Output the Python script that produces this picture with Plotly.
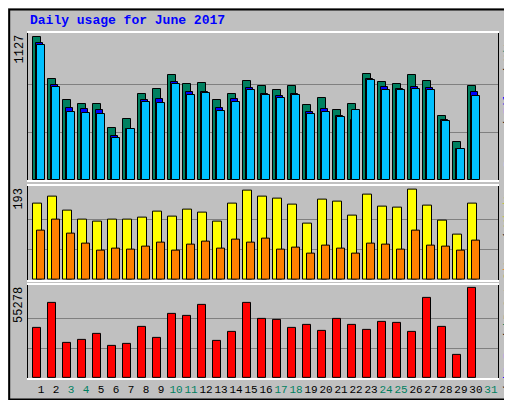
import plotly.graph_objects as go
from plotly.subplots import make_subplots

days = list(range(1, 32))
weekend = [3, 4, 10, 11, 17, 18, 24, 25, 31]

hits = [1127, 798, 630, 600, 600, 416, 485, 684, 722, 829, 760, 768, 630, 684, 783, 745, 714, 745, 592, 645, 553, 600, 837, 775, 760, 829, 783, 508, 301, 745]
files = [1081, 747, 571, 564, 556, 349, 403, 630, 638, 776, 692, 699, 571, 638, 730, 684, 668, 684, 538, 561, 508, 477, 798, 737, 722, 737, 730, 477, 247, 692]
pages = [1066, 737, 540, 533, 525, 332, 408, 615, 607, 760, 673, 688, 546, 615, 714, 673, 645, 673, 525, 540, 502, 553, 790, 714, 714, 722, 714, 469, 247, 668]
visits = [164, 178, 149, 130, 124, 130, 130, 134, 147, 136, 151, 145, 124, 164, 191, 178, 174, 162, 120, 172, 168, 138, 182, 157, 155, 193, 159, 126, 96, 164]
sites = [105, 130, 100, 78, 63, 67, 65, 71, 80, 63, 76, 82, 67, 86, 80, 88, 65, 69, 57, 73, 67, 57, 78, 76, 65, 105, 73, 71, 63, 84]
kbytes = [31060, 46190, 21380, 23200, 26830, 19570, 20780, 31670, 24410, 39540, 38330, 44980, 22590, 28640, 46190, 36510, 35910, 31060, 32870, 29250, 36510, 32870, 29850, 34700, 34090, 28640, 49210, 31670, 14170, 55278]

HITS, FILES, PAGES = "#008060", "#0000ff", "#00c0ff"
VISITS, SITES, KB = "#ffff00", "#ff8000", "#ff0000"
FONT = "Liberation Mono"

fig = make_subplots(rows=3, cols=1, shared_xaxes=True, vertical_spacing=0.015,
                    row_heights=[152, 97, 96])
line = dict(color="black", width=1)
fig.add_bar(x=days[:30], y=hits, marker=dict(color=HITS, line=line), width=0.49, offset=-0.51, row=1, col=1)
fig.add_bar(x=days[:30], y=files, marker=dict(color=FILES, line=line), width=0.47, offset=-0.36, row=1, col=1)
fig.add_bar(x=days[:30], y=pages, marker=dict(color=PAGES, line=line), width=0.49, offset=-0.25, row=1, col=1)
fig.add_bar(x=days[:30], y=visits, marker=dict(color=VISITS, line=line), width=0.56, offset=-0.51, row=2, col=1)
fig.add_bar(x=days[:30], y=sites, marker=dict(color=SITES, line=line), width=0.49, offset=-0.25, row=2, col=1)
fig.add_bar(x=days[:30], y=kbytes, marker=dict(color=KB, line=line), width=0.49, offset=-0.51, row=3, col=1)

ticktext = [f"<span style='color:{'#008060' if d in weekend else 'black'}'>{d}</span>" for d in days]
for r in (1, 2, 3):
    fig.update_xaxes(range=[0.13, 31.47], showgrid=False, zeroline=False, showline=True,
                     linecolor="white", linewidth=2, mirror=True, row=r, col=1)
fig.update_xaxes(tickvals=days, ticktext=ticktext, ticks="", tickangle=0,
                 tickfont=dict(family=FONT, size=11), showticklabels=True, row=3, col=1)

ymax = [(1127, 1160), (193, 202), (55278, 57270)]
for r, (m, top) in enumerate(ymax, start=1):
    fig.update_yaxes(range=[0, top], tickvals=[m / 3, 2 * m / 3], showticklabels=False, ticks="",
                     gridcolor="#808080", gridwidth=1, zeroline=False, showline=True,
                     linecolor="black", linewidth=1, mirror=True, row=r, col=1)

fig.update_layout(
    width=512, height=400, margin=dict(l=20, r=22, t=25, b=23),
    paper_bgcolor="#c0c0c0", plot_bgcolor="#c0c0c0",
    barmode="overlay", showlegend=False, bargap=0,
    font=dict(family=FONT, size=12, color="black"),
)

fig.add_shape(type="rect", xref="paper", yref="paper", x0=-0.04, x1=1.045, y0=-0.062, y1=1.068,
              line=dict(color="black", width=2), layer="below")

# y max labels
for yref, txt in (("y domain", "1127"), ("y2 domain", "193"), ("y3 domain", "55278")):
    fig.add_annotation(text=txt, xref="paper", yref=yref, x=0, y=1, xanchor="center", yanchor="top",
                       xshift=-9, textangle=-90, showarrow=False, font=dict(size=12))

fig.add_annotation(text="<b>Daily usage for June 2017</b>", xref="paper", yref="paper", x=0, y=1,
                   xanchor="left", yanchor="bottom", yshift=3, showarrow=False,
                   font=dict(size=13, color="#0000ff"))

legends = [
    ("y domain", f"<span style='color:{PAGES}'>Pages</span> / <span style='color:{FILES}'>Files</span> / <span style='color:{HITS}'>Hits</span>"),
    ("y2 domain", f"<span style='color:{SITES}'>Sites</span> / <span style='color:#c8c800'>Visits</span>"),
    ("y3 domain", f"<span style='color:{KB}'>kB F</span> / <span style='color:{FILES}'>kB In</span> / <span style='color:{HITS}'>kB Out</span>"),
]
for yref, txt in legends:
    fig.add_annotation(text=txt, xref="paper", yref=yref, x=1, y=1, xanchor="center", yanchor="top",
                       xshift=10, textangle=-90, showarrow=False, font=dict(size=11))

fig.write_html("out.html")
